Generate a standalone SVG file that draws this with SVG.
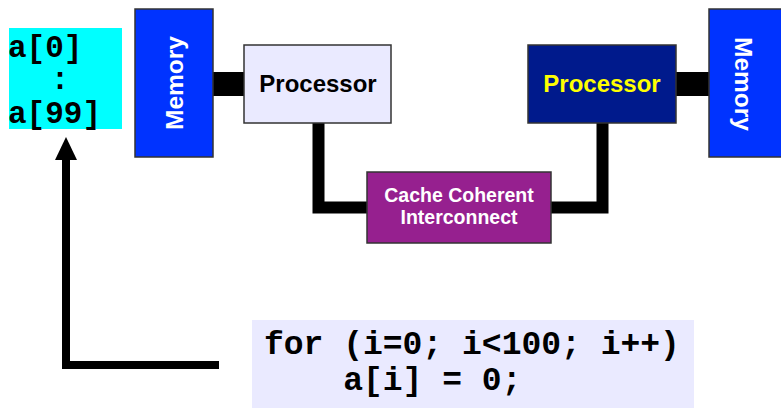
<svg xmlns="http://www.w3.org/2000/svg" width="781" height="409" viewBox="0 0 781 409">
<style>
.box{stroke:#333;stroke-width:1.5}
.sans{font-family:"Liberation Sans",Arial,sans-serif;font-weight:bold}
.mono{font-family:"Liberation Mono","Courier New",monospace;font-weight:bold;fill:#000}
.wire{fill:none;stroke:#000;stroke-linejoin:miter}
</style>
<rect width="781" height="409" fill="#fff"/>
<g id="connectors">
<rect x="212" y="72" width="33" height="24" fill="#000"/>
<rect x="675" y="72" width="35" height="24" fill="#000"/>
<path class="wire" stroke-width="12" d="M318.5 123 V207.5 H368"/>
<path class="wire" stroke-width="12" d="M602.5 123 V207.5 H550"/>
<path class="wire" stroke-width="8" d="M219 365 H66 V158"/>
<polygon points="66,137 55,160 77,160" fill="#000"/>
</g>
<g id="array">
<rect x="9" y="28" width="113" height="101" fill="#00FFFF"/>
<text class="mono" x="8" y="57" font-size="31">a[0]</text>
<text class="mono" x="60" y="89" font-size="31" text-anchor="middle">:</text>
<text class="mono" x="8" y="123" font-size="31">a[99]</text>
</g>
<g id="memory-left">
<rect class="box" x="135" y="9" width="78" height="148" fill="#0033FF"/>
<text class="sans" transform="translate(183,83) rotate(-90)" font-size="24.5" fill="#fff" text-anchor="middle">Memory</text>
</g>
<g id="processor-left">
<rect class="box" x="244" y="45" width="147" height="78" fill="#EAEAFF"/>
<text class="sans" x="318" y="92" font-size="24" fill="#000" text-anchor="middle">Processor</text>
</g>
<g id="interconnect">
<rect class="box" x="367" y="172" width="184" height="71" fill="#96208F"/>
<text class="sans" x="459" y="202" font-size="19.5" fill="#fff" text-anchor="middle">Cache Coherent</text>
<text class="sans" x="459" y="224" font-size="19.5" fill="#fff" text-anchor="middle">Interconnect</text>
</g>
<g id="processor-right">
<rect class="box" x="528" y="45" width="148" height="78" fill="#001A8C"/>
<text class="sans" x="602" y="92" font-size="24" fill="#FFFF00" text-anchor="middle">Processor</text>
</g>
<g id="memory-right">
<rect class="box" x="709" y="9" width="80" height="148" fill="#0033FF"/>
<text class="sans" transform="translate(735,84) rotate(90)" font-size="24.5" fill="#fff" text-anchor="middle">Memory</text>
</g>
<g id="code">
<rect x="252" y="320" width="442" height="88" fill="#EAEAFF"/>
<text class="mono" x="264" y="354" font-size="33" xml:space="preserve">for (i=0; i&lt;100; i++)</text>
<text class="mono" x="264" y="390" font-size="33" xml:space="preserve">    a[i] = 0;</text>
</g>
</svg>
